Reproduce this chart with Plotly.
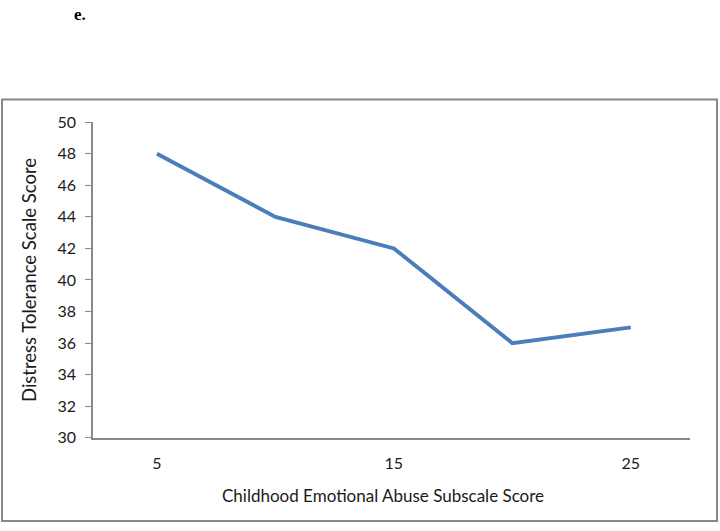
import plotly.graph_objects as go

# Datos
puntuacion_abuso = [5, 10, 15, 20, 25]
tolerancia = [48, 44, 42, 36, 37]
ticks_x = [5, 15, 25]
ticks_y = list(range(30, 51, 2))

W, H = 720, 531
fuente = "Lato, 'Open Sans', sans-serif"
gris = "#888888"
texto = "#1a1a1a"


def py(pix):
    # posición vertical en fracción de papel a partir de píxeles desde arriba
    return 1 - pix / H


fig = go.Figure()
fig.add_trace(go.Scatter(
    x=puntuacion_abuso, y=tolerancia, mode="lines",
    line=dict(color="#4A7EBB", width=3.9),
    showlegend=False, hoverinfo="x+y"
))

fig.update_layout(
    width=W, height=H,
    margin=dict(l=0, r=0, t=0, b=0),
    paper_bgcolor="white", plot_bgcolor="white",
    font=dict(family=fuente, size=16, color=texto),
    xaxis=dict(
        domain=[93 / W, 690 / W], range=[2.3, 27.5],
        tickvals=ticks_x, ticktext=[str(v) for v in ticks_x],
        showgrid=False, zeroline=False, showline=True,
        linecolor=gris, linewidth=1.5, ticks="", ticklabelstandoff=10,
    ),
    yaxis=dict(
        domain=[py(443.7), py(116.3)], range=[30, 50],
        tickvals=ticks_y, showgrid=False, zeroline=False, showline=True,
        linecolor=gris, linewidth=1.5, ticks="outside", ticklen=6,
        tickcolor=gris, ticklabelstandoff=6,
    ),
    shapes=[dict(type="rect", xref="paper", yref="paper",
                 x0=2 / W, x1=717 / W, y0=py(530), y1=py(92.7),
                 line=dict(color=gris, width=2))],
    annotations=[
        dict(text="<b>e.</b>", xref="paper", yref="paper", x=80 / W, y=py(5),
             showarrow=False, font=dict(family="Liberation Serif", size=17, color="black"),
             xanchor="center", yanchor="middle"),
        dict(text="Distress Tolerance Scale Score", xref="paper", yref="paper",
             x=29 / W, y=py(280), textangle=-90, showarrow=False,
             font=dict(family=fuente, size=18.5, color=texto),
             xanchor="center", yanchor="middle"),
        dict(text="Childhood Emotional Abuse Subscale Score", xref="paper", yref="paper",
             x=383 / W, y=py(503), showarrow=False,
             font=dict(family=fuente, size=17, color=texto),
             xanchor="center", yanchor="middle"),
    ],
)

ajuste_pagina = "document.body.style.margin='0';"
fig.write_html("out.html", config={"displayModeBar": False}, post_script=ajuste_pagina)
